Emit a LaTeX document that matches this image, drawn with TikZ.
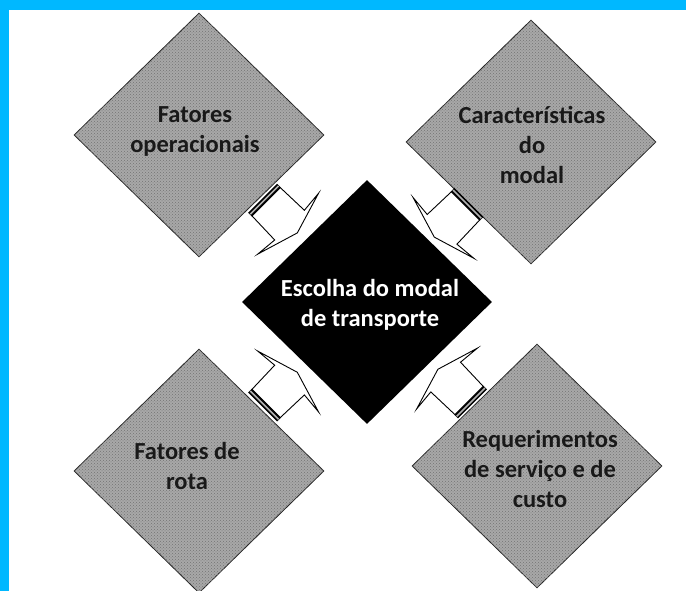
\documentclass[tikz,border=0pt]{standalone}
\usepackage{fontspec}
\setmainfont{Carlito}
\usetikzlibrary{shapes.geometric,patterns,calc}
\definecolor{frame}{RGB}{0,184,255}
\definecolor{texgray}{RGB}{168,168,168}
\tikzset{
  factor/.style={diamond, draw=black!85, line width=0.8pt, fill=texgray,
    minimum width=250pt, minimum height=244pt, inner sep=0pt,
    postaction={pattern=crosshatch dots, pattern color=black!55}},
  core/.style={diamond, fill=black, minimum width=250pt, minimum height=244pt, inner sep=0pt},
  lbl/.style={font=\fontsize{24.5}{30}\selectfont\bfseries, align=center, text=black!90},
  corelbl/.style={lbl, text=white},
  blockarrow/.style={draw=black, line width=0.9pt, fill=white, line join=miter},
  pics/flecha/.style={code={
    \fill[black] (-5,-20.5) rectangle (0,20.5);
    \fill[black!30] (-3.3,-20) rectangle (-1.7,20);
    \draw[blockarrow] (0,20) -- (33,21) -- (31,43) -- (44,0) -- (31,-43) -- (33,-21) -- (0,-20) -- cycle;
  }}
}
\begin{document}
\begin{tikzpicture}[x=1pt,y=-1pt]
  \useasboundingbox (0,0) rectangle (686,591);
  \clip (0,0) rectangle (686,591);
  \fill[white] (0,0) rectangle (686,591);
  \fill[frame] (0,0) rectangle (686,10);
  \fill[frame] (0,0) rectangle (9,591);

  \node[factor] (fo) at (199,135) {};
  \node[factor] (cm) at (531,142) {};
  \node[factor] (fr) at (199,471) {};
  \node[factor] (rs) at (537,466) {};
  \node[core] (ctr) at (367,302) {};

  \node[lbl] (fotext) at (195,131) {Fatores\\operacionais};
  \node[lbl] (cmtext) at (532,145) {Características\\do\\modal};
  \node[lbl] (frtext) at (187,466) {Fatores de\\rota};
  \node[lbl] (rstext) at (540,469) {Requerimentos\\de serviço e de\\custo};
  \node[corelbl] (ctrtext) at (370,305) {Escolha do modal\\de transporte};

  \path ($(fo)!0.4!(ctr)$) pic[rotate=-45] {flecha};
  \path ($(cm)!0.4!(ctr)$) pic[rotate=-135] {flecha};
  \path ($(fr)!0.4!(ctr)$) pic[rotate=45] {flecha};
  \path ($(rs)!0.4!(ctr)$) pic[rotate=135] {flecha};
\end{tikzpicture}
\end{document}
